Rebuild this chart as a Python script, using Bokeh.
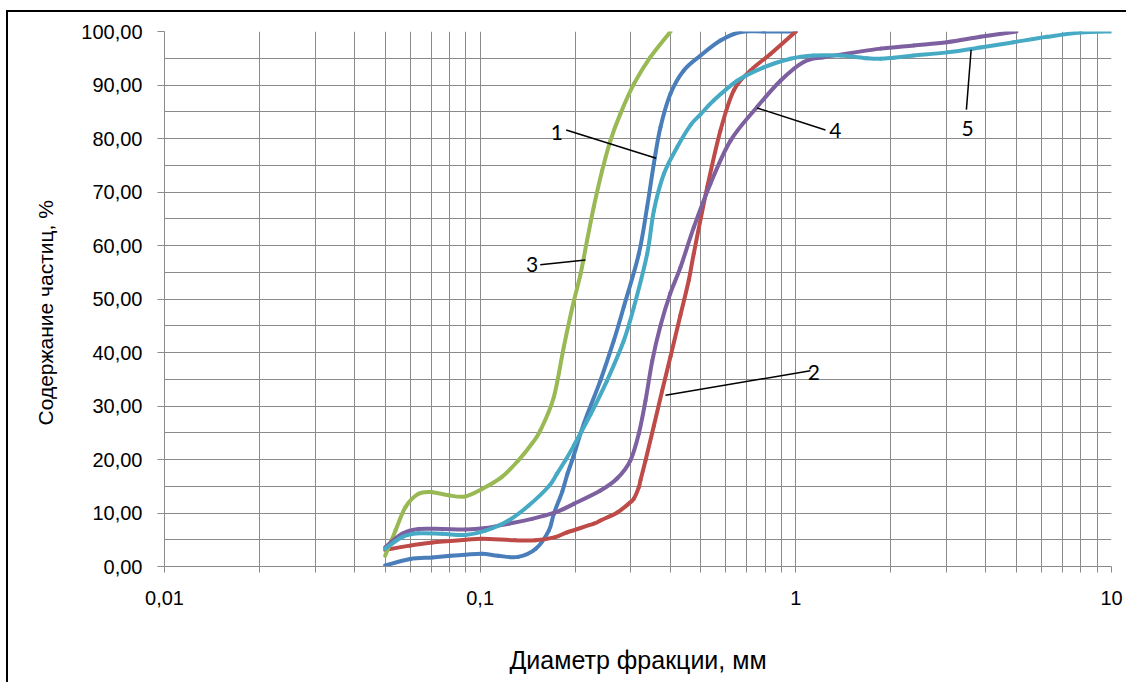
import math
from bokeh.plotting import figure
from bokeh.models import Range1d, FixedTicker, CustomJSTickFormatter, ColumnDataSource, Title
from bokeh.core.properties import value
from bokeh.embed import file_html
from bokeh.resources import INLINE

# ---- data (diameter, mm ; content, %) ----
c1_x = [0.05, 0.06, 0.0705, 0.0806, 0.0898, 0.1015, 0.114, 0.132, 0.150, 0.165, 0.171, 0.182, 0.189,
        0.1975, 0.213, 0.2405, 0.265, 0.285, 0.318, 0.338, 0.355, 0.3725, 0.401, 0.4415, 0.499,
        0.577, 0.668, 0.79, 1.0]
c1_y = [0.2, 1.4, 1.7, 2.0, 2.2, 2.4, 2.0, 1.8, 3.3, 6.7, 9.8, 14.0, 17.3,
        20.6, 26.7, 34.8, 42.2, 48.5, 58.4, 67.2, 75.3, 82.1, 88.4, 92.7, 95.5,
        98.3, 99.9, 100.0, 100.0]

c2_x = [0.05, 0.06, 0.0705, 0.0898, 0.1015, 0.129, 0.150, 0.173, 0.189, 0.229, 0.2405, 0.272, 0.299,
        0.307, 0.318, 0.322, 0.334, 0.355, 0.377, 0.401, 0.431, 0.458, 0.475, 0.524, 0.577,
        0.636, 0.718, 0.831, 1.0]
c2_y = [3.1, 3.9, 4.5, 5.0, 5.2, 4.9, 4.9, 5.5, 6.4, 8.0, 8.6, 10.1, 12.0,
        12.7, 14.8, 16.1, 19.8, 26.3, 32.8, 39.3, 47.0, 53.5, 58.5, 70.9, 81.5,
        89.0, 92.7, 95.8, 100.0]

c3_x = [0.05, 0.0539, 0.058, 0.0638, 0.0705, 0.0794, 0.0898, 0.1015, 0.117, 0.132, 0.146, 0.155,
        0.171, 0.184, 0.196, 0.208, 0.218, 0.229, 0.2435, 0.2586, 0.278, 0.307, 0.346, 0.401]
c3_y = [2.0, 6.7, 11.1, 13.6, 13.9, 13.3, 13.1, 14.5, 16.7, 19.8, 23.0, 25.4,
        31.6, 41.0, 48.5, 54.7, 60.9, 67.2, 74.0, 79.6, 84.6, 90.2, 95.2, 100.0]

c4_x = [0.05, 0.0566, 0.0638, 0.0758, 0.0898, 0.104, 0.123, 0.146, 0.173, 0.198, 0.2405, 0.272, 0.299,
        0.318, 0.334, 0.351, 0.3725, 0.40, 0.431, 0.475, 0.536, 0.621, 0.754, 0.894,
        1.059, 1.226, 1.5, 1.854, 2.364, 3.015, 3.843, 5.0]
c4_y = [3.6, 6.1, 7.0, 7.0, 6.9, 7.2, 8.0, 8.9, 10.1, 11.7, 14.2, 16.5, 19.8,
        24.8, 31.0, 38.5, 45.0, 51.0, 55.9, 63.4, 71.5, 79.6, 85.9, 90.8,
        94.3, 95.2, 96.0, 96.8, 97.4, 98.0, 99.0, 100.0]

c5_x = [0.05, 0.0566, 0.0638, 0.0758, 0.0898, 0.104, 0.123, 0.1425, 0.165, 0.175, 0.186, 0.198,
        0.224, 0.2525, 0.285, 0.307, 0.338, 0.355, 0.382, 0.421, 0.464, 0.499, 0.549, 0.652,
        0.791, 0.961, 1.14, 1.385, 1.682, 1.854, 2.042, 2.364, 3.015, 3.843, 4.9, 6.25, 7.97, 10.0]
c5_y = [3.3, 5.5, 6.2, 6.1, 5.9, 6.7, 8.6, 11.4, 15.0, 17.3, 19.8, 22.6,
        28.5, 34.8, 42.2, 48.5, 58.4, 66.5, 73.4, 78.4, 82.5, 84.5, 87.1, 90.8,
        93.3, 94.9, 95.5, 95.5, 95.0, 94.9, 95.1, 95.5, 96.1, 97.0, 98.0, 99.0, 99.8, 100.0]

series_colors = ["#4A7EBB", "#BE4B48", "#98B954", "#7D60A0", "#46AAC5"]

# curve labels: text, text position, leader start (near text), leader end (on curve)
lbl_text = ["1", "2", "3", "4", "5"]
lbl_x = [0.175, 1.14, 0.146, 1.335, 3.50]
lbl_y = [81.2, 36.3, 56.4, 81.5, 81.8]
lead_x0 = [0.1873, 1.112, 0.155, 1.241, 3.47]
lead_y0 = [81.6, 36.6, 56.4, 81.6, 85.4]
lead_x1 = [0.361, 0.3864, 0.2156, 0.754, 3.592]
lead_y1 = [76.3, 32.0, 57.3, 85.7, 96.6]

x_major = [0.01, 0.1, 1, 10]
x_minor = [m * d for d in (0.01, 0.1, 1) for m in range(2, 10)]
y_major = list(range(0, 101, 10))
y_minor = list(range(0, 101, 5))

x_title = "Диаметр фракции, мм"
y_title = "Содержание частиц, %"


def smooth_segments(xs, ys):
    """Catmull-Rom control points (in log-x space) for drawing a smoothed line through the points."""
    lx = [math.log10(v) for v in xs]
    n = len(xs)
    out = dict(x0=[], y0=[], x1=[], y1=[], cx0=[], cy0=[], cx1=[], cy1=[])
    for i in range(n - 1):
        a = max(i - 1, 0)
        d = min(i + 2, n - 1)
        c0x = lx[i] + (lx[i + 1] - lx[a]) / 6.0
        c0y = ys[i] + (ys[i + 1] - ys[a]) / 6.0
        c1x = lx[i + 1] - (lx[d] - lx[i]) / 6.0
        c1y = ys[i + 1] - (ys[d] - ys[i]) / 6.0
        out["x0"].append(xs[i]); out["y0"].append(ys[i])
        out["x1"].append(xs[i + 1]); out["y1"].append(ys[i + 1])
        out["cx0"].append(10 ** c0x); out["cy0"].append(c0y)
        out["cx1"].append(10 ** c1x); out["cy1"].append(c1y)
    return out


p = figure(width=1120, height=672, x_axis_type="log",
           x_range=Range1d(0.01, 10), y_range=Range1d(0, 100),
           output_backend="svg", toolbar_location=None,
           min_border_left=156, min_border_right=17, min_border_top=19, min_border_bottom=118,
           styles={"border-left": "2px solid black", "border-top": "2px solid black",
                   "margin-left": "6px", "margin-top": "10px"})
p.outline_line_color = None
p.background_fill_color = "white"
p.border_fill_color = "white"

grid_col = "#8a8a8a"
p.xaxis.ticker = FixedTicker(ticks=x_major, minor_ticks=x_minor)
p.yaxis.ticker = FixedTicker(ticks=y_major, minor_ticks=y_minor)
p.xgrid.ticker = FixedTicker(ticks=x_major, minor_ticks=x_minor)
p.ygrid.ticker = FixedTicker(ticks=y_major, minor_ticks=y_minor)
for g in (p.xgrid, p.ygrid):
    g.grid_line_color = grid_col
    g.grid_line_width = 1
    g.minor_grid_line_color = grid_col
    g.minor_grid_line_width = 1

p.xaxis.formatter = CustomJSTickFormatter(code="return String(tick).replace('.', ',');")
p.yaxis.formatter = CustomJSTickFormatter(code="return tick.toFixed(2).replace('.', ',');")

for ax in (p.xaxis, p.yaxis):
    ax.axis_line_color = grid_col
    ax.major_tick_line_color = grid_col
    ax.minor_tick_line_color = grid_col
    ax.major_label_text_font = "Liberation Sans"
    ax.major_label_text_font_size = "20px"
    ax.major_label_text_color = "black"

p.xaxis.major_tick_in = 0
p.xaxis.major_tick_out = 6
p.xaxis.minor_tick_in = 0
p.xaxis.minor_tick_out = 6
p.xaxis.major_label_standoff = 18
p.xaxis.axis_label = x_title
p.xaxis.axis_label_text_font = "Liberation Sans"
p.xaxis.axis_label_text_font_size = "25px"
p.xaxis.axis_label_text_font_style = "normal"
p.xaxis.axis_label_text_color = "black"
p.xaxis.axis_label_standoff = 38

p.yaxis.major_tick_in = 0
p.yaxis.major_tick_out = 7
p.yaxis.minor_tick_in = 0
p.yaxis.minor_tick_out = 0
p.yaxis.major_label_standoff = 15

# y title as Title annotation so it can sit slightly below centre like the original
p.add_layout(Title(text=y_title, align="left", offset=141, standoff=43,
                   text_font="Liberation Sans", text_font_size="21px", text_font_style="normal",
                   text_color="black"), "left")

for xs, ys, col in zip([c1_x, c2_x, c3_x, c4_x, c5_x], [c1_y, c2_y, c3_y, c4_y, c5_y], series_colors):
    seg = ColumnDataSource(smooth_segments(xs, ys))
    p.bezier(x0="x0", y0="y0", x1="x1", y1="y1", cx0="cx0", cy0="cy0", cx1="cx1", cy1="cy1",
             source=seg, line_color=col, line_width=4, line_cap="round")

p.segment(x0=lead_x0, y0=lead_y0, x1=lead_x1, y1=lead_y1, line_color="black", line_width=1.5)
src = ColumnDataSource(dict(x=lbl_x, y=lbl_y, t=lbl_text))
p.text(x="x", y="y", text="t", source=src, text_font=value("Lato"), text_font_size="21px",
       text_align="center", text_baseline="middle", text_color="black")

open("out.html", "w").write(file_html(p, INLINE))
